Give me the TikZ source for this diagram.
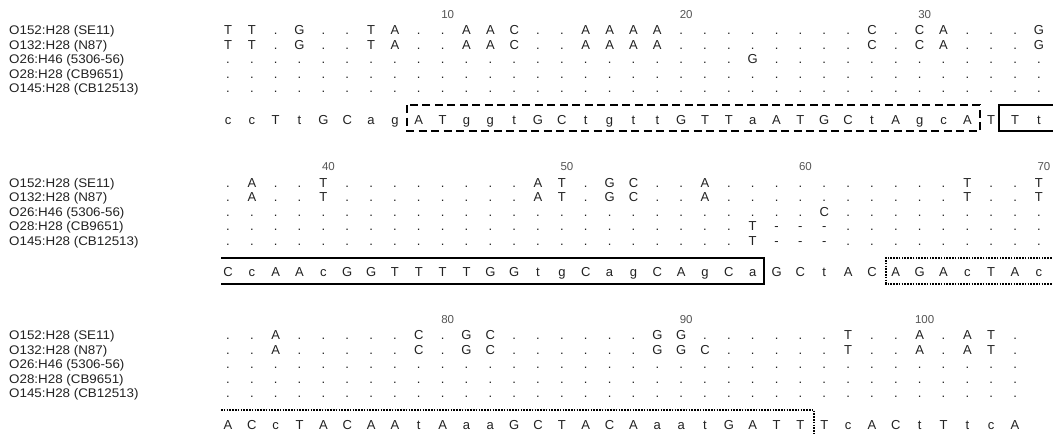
\documentclass[tikz,border=0pt]{standalone}
\usepackage{fontspec}
\setmainfont{Liberation Sans}
\newfontfamily\lblfont[FakeStretch=1.07]{Liberation Sans}
\definecolor{ink}{HTML}{222222}
\definecolor{numgray}{HTML}{555555}
\tikzset{
 ntc/.style={anchor=base,inner sep=0pt,text=ink,font=\fontsize{13}{15}\selectfont},
 lbl/.style={anchor=base west,inner sep=0pt,text=ink,font=\lblfont\fontsize{12.5}{14}\selectfont},
 num/.style={anchor=base,inner sep=0pt,text=numgray,font=\fontsize{11.5}{13}\selectfont},
 solidbox/.style={draw=black,line width=2pt},
 dashbox/.style={draw=black,line width=2.2pt,dash pattern=on 8pt off 4.5pt},
 dotbox/.style={draw=black,line width=2pt,dash pattern=on 1.6pt off 1.2pt},
}
\newcommand\alnrow[3]{%
  \foreach \ch [count=\i] in {#3} {\node[ntc,name=#1-\i] at ({228+(\i-1)*23.85},#2) {\ch};}}
\newcommand\strains[2]{%
  \node[lbl,name=#1-s1] at (9,34.5+#2) {O152:H28 (SE11)};
  \node[lbl,name=#1-s2] at (9,49+#2) {O132:H28 (N87)};
  \node[lbl,name=#1-s3] at (9,63.5+#2) {O26:H46 (5306-56)};
  \node[lbl,name=#1-s4] at (9,78+#2) {O28:H28 (CB9651)};
  \node[lbl,name=#1-s5] at (9,92.5+#2) {O145:H28 (CB12513)};}
\newcommand\numlbl[4]{\node[num,name=#1] at ({228+(#2-1)*23.85+5},18+#3) {#4};}
\begin{document}
\begin{tikzpicture}[x=1pt,y=-1pt]
\useasboundingbox (0,0) rectangle (1053,434);
\clip (0,0) rectangle (1053,434);
\fill[white] (0,0) rectangle (1053,434);

% ---------- block 1 ----------
\strains{a}{0}
\numlbl{n10}{10}{0}{10}
\numlbl{n20}{20}{0}{20}
\numlbl{n30}{30}{0}{30}
\alnrow{a1}{34.5}{T,T,.,G,.,.,T,A,.,.,A,A,C,.,.,A,A,A,A,.,.,.,.,.,.,.,.,C,.,C,A,.,.,.,G}
\alnrow{a2}{49}{T,T,.,G,.,.,T,A,.,.,A,A,C,.,.,A,A,A,A,.,.,.,.,.,.,.,.,C,.,C,A,.,.,.,G}
\alnrow{a3}{63.5}{.,.,.,.,.,.,.,.,.,.,.,.,.,.,.,.,.,.,.,.,.,.,G,.,.,.,.,.,.,.,.,.,.,.,.}
\alnrow{a4}{78}{.,.,.,.,.,.,.,.,.,.,.,.,.,.,.,.,.,.,.,.,.,.,.,.,.,.,.,.,.,.,.,.,.,.,.}
\alnrow{a5}{92.5}{.,.,.,.,.,.,.,.,.,.,.,.,.,.,.,.,.,.,.,.,.,.,.,.,.,.,.,.,.,.,.,.,.,.,.}
\alnrow{as}{124}{c,c,T,t,G,C,a,g,A,T,g,g,t,G,C,t,g,t,t,G,T,T,a,A,T,G,C,t,A,g,c,A,T,T,t}
\draw[dashbox] (407,105) rectangle (980,131);
\draw[solidbox] (1060,105) -- (999,105) -- (999,131) -- (1060,131);

% ---------- block 2 ----------
\strains{b}{152.5}
\numlbl{n40}{5}{152.5}{40}
\numlbl{n50}{15}{152.5}{50}
\numlbl{n60}{25}{152.5}{60}
\numlbl{n70}{35}{152.5}{70}
\alnrow{b1}{187}{.,A,.,.,T,.,.,.,.,.,.,.,.,A,T,.,G,C,.,.,A,.,.,.,.,.,.,.,.,.,.,T,.,.,T}
\alnrow{b2}{201.5}{.,A,.,.,T,.,.,.,.,.,.,.,.,A,T,.,G,C,.,.,A,.,.,.,.,.,.,.,.,.,.,T,.,.,T}
\alnrow{b3}{216}{.,.,.,.,.,.,.,.,.,.,.,.,.,.,.,.,.,.,.,.,.,.,.,.,.,C,.,.,.,.,.,.,.,.,.}
\alnrow{b4}{230.5}{.,.,.,.,.,.,.,.,.,.,.,.,.,.,.,.,.,.,.,.,.,.,T,-,-,-,.,.,.,.,.,.,.,.,.}
\alnrow{b5}{245}{.,.,.,.,.,.,.,.,.,.,.,.,.,.,.,.,.,.,.,.,.,.,T,-,-,-,.,.,.,.,.,.,.,.,.}
\alnrow{bs}{276.5}{C,c,A,A,c,G,G,T,T,T,T,G,G,t,g,C,a,g,C,A,g,C,a,G,C,t,A,C,A,G,A,c,T,A,c}
\draw[solidbox] (221,257.5) -- (764,257.5) -- (764,283.5) -- (221,283.5);
\draw[dotbox] (1060,257.5) -- (886,257.5) -- (886,283.5) -- (1060,283.5);

% ---------- block 3 ----------
\strains{c}{305}
\numlbl{n80}{10}{305}{80}
\numlbl{n90}{20}{305}{90}
\numlbl{n100}{30}{305}{100}
\alnrow{c1}{339.5}{.,.,A,.,.,.,.,.,C,.,G,C,.,.,.,.,.,.,G,G,.,.,.,.,.,.,T,.,.,A,.,A,T,.}
\alnrow{c2}{354}{.,.,A,.,.,.,.,.,C,.,G,C,.,.,.,.,.,.,G,G,C,.,.,.,.,.,T,.,.,A,.,A,T,.}
\alnrow{c3}{368.5}{.,.,.,.,.,.,.,.,.,.,.,.,.,.,.,.,.,.,.,.,.,.,.,.,.,.,.,.,.,.,.,.,.,.}
\alnrow{c4}{383}{.,.,.,.,.,.,.,.,.,.,.,.,.,.,.,.,.,.,.,.,.,.,.,.,.,.,.,.,.,.,.,.,.,.}
\alnrow{c5}{397.5}{.,.,.,.,.,.,.,.,.,.,.,.,.,.,.,.,.,.,.,.,.,.,.,.,.,.,.,.,.,.,.,.,.,.}
\alnrow{cs}{429}{A,C,c,T,A,C,A,A,t,A,a,a,G,C,T,A,C,A,a,a,t,G,A,T,T,T,c,A,C,t,T,t,c,A}
\draw[dotbox] (221,410) -- (814,410) -- (814,436) -- (221,436);
\end{tikzpicture}
\end{document}
